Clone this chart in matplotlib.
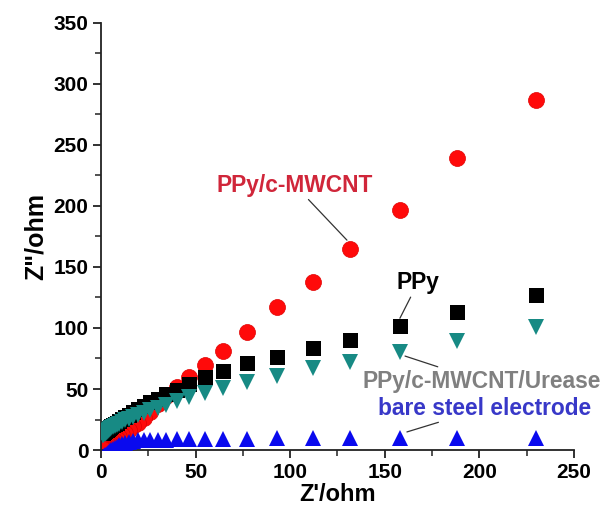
import matplotlib
matplotlib.use("Agg")
import matplotlib.pyplot as plt
from matplotlib.ticker import MultipleLocator

plt.rcParams['font.family'] = ['Liberation Sans', 'DejaVu Sans']
plt.rcParams['font.weight'] = 'bold'

# Z' values (ohm), shared frequency points
z_real = [230, 188, 158, 131.6, 112, 93, 77, 64.5, 55, 46.5, 40, 34.5, 30, 26, 22.5,
          19.5, 17, 14.8, 12.8, 11.1, 9.6, 8.3, 7.2, 6.2, 5.4, 4.7, 4.1, 3.5, 3.0,
          2.6, 2.2, 1.9, 1.6, 1.3, 1.1, 0.9]

# Z'' values (ohm)
ppy_cmwcnt = [287, 239, 197, 165, 137.5, 117.5, 96.5, 81.5, 69.5, 59.5, 52, 44, 37.5,
              31.5, 26.5, 22.5, 19.5, 16.8, 14.3, 12.2, 10.4, 9, 7.7, 6.6, 5.7, 5,
              4.3, 3.7, 3.2, 2.8, 2.4, 2, 1.7, 1.4, 1.2, 1]
ppy = [127, 113, 101.5, 90, 84, 76.5, 71, 64.5, 59.5, 54, 49.5, 45.5, 42, 39, 36,
       33.5, 31, 29, 27, 25.5, 24, 22.5, 21.5, 20.5, 19.5, 18.8, 18, 17.3, 16.7,
       16.2, 15.7, 15.3, 14.9, 14.5, 14.2, 14]
ppy_urease = [101, 89.6, 80.6, 72.5, 67, 60.5, 55.5, 50.5, 47, 43.5, 40, 37, 34.6,
              32.4, 30.4, 28.6, 27, 25.6, 24.2, 22.9, 21.7, 20.6, 19.6, 18.6, 17.8,
              17, 16.2, 15.5, 14.9, 14.3, 13.8, 13.3, 12.9, 12.5, 12.2, 12]
bare_steel = [9.5, 9.5, 9.5, 9.5, 9.5, 9.5, 9.3, 9.2, 9, 9, 8.8, 8.6, 8.5, 8.3, 8.1,
              7.9, 7.6, 6.8, 5.8, 4.8, 3.8, 2.8, 1.8, 0.9, 0, -0.8, -1.6, -2.4, -3.1,
              -3.7, -4.3, -4.8, -5.3, -5.8, -6.2, -6.6]

fig = plt.figure(figsize=(6.07, 5.13), dpi=100)
ax = fig.add_axes([0.1664, 0.1228, 0.9456 - 0.1664, 0.9552 - 0.1228])

ax.plot(z_real, ppy_cmwcnt, 'o', color='#ff0a0a', ms=11.5, mec='#e00000', mew=0.5, zorder=2)
ax.plot(z_real, ppy, 's', color='#000000', ms=10.8, mew=0, zorder=3)
ax.plot(z_real, ppy_urease, 'v', color='#178a84', ms=12, mew=0, zorder=4)
ax.plot(z_real, bare_steel, '^', color='#0a0aee', ms=12, mew=0, zorder=5)

ax.set_xlim(0, 250)
ax.set_ylim(0, 350)
ax.xaxis.set_major_locator(MultipleLocator(50))
ax.xaxis.set_minor_locator(MultipleLocator(25))
ax.yaxis.set_major_locator(MultipleLocator(50))
ax.yaxis.set_minor_locator(MultipleLocator(25))
for s in ['top', 'right']:
    ax.spines[s].set_visible(False)
for s in ['left', 'bottom']:
    ax.spines[s].set_linewidth(1.3)
    ax.spines[s].set_color('#222222')
ax.tick_params(which='major', direction='out', length=6, width=1.3, color='#222222',
               labelsize=15, pad=3)
ax.tick_params(which='minor', direction='out', length=4, width=1.1, color='#222222')
for lab in ax.get_xticklabels() + ax.get_yticklabels():
    lab.set_fontweight('bold')

ax.set_xlabel("Z'/ohm", fontsize=17, fontweight='bold', labelpad=1)
ax.set_ylabel('Z"/ohm', fontsize=18, fontweight='bold', labelpad=4)

ann_kw = dict(fontsize=16.4, fontweight='bold', ha='center', va='center',
              arrowprops=dict(arrowstyle='-', color='#333333', lw=0.9, shrinkA=0, shrinkB=0))
ax.annotate('PPy/c-MWCNT', xy=(130, 172), xytext=(102.5, 217), color='#d0263a',
            annotation_clip=False, **ann_kw)
ax.annotate('PPy', xy=(158, 108), xytext=(167.5, 137), color='#000000',
            annotation_clip=False, **ann_kw)
ax.annotate('PPy/c-MWCNT/Urease', xy=(160.7, 77), xytext=(201, 56.5), color='#808080',
            annotation_clip=False, **ann_kw)
ax.annotate('bare steel electrode', xy=(161.7, 14.8), xytext=(203, 34.4), color='#3838c8',
            annotation_clip=False, **ann_kw)

fig.savefig('out.png', dpi=100)
